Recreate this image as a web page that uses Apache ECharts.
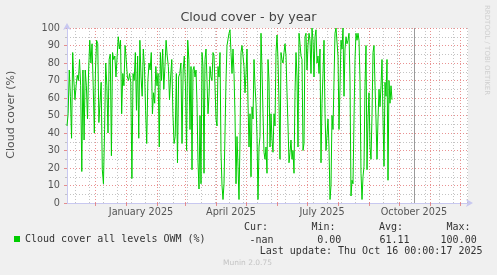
<!DOCTYPE html>
<html><head><meta charset="utf-8">
<script src="https://cdn.jsdelivr.net/npm/echarts@6/dist/echarts.min.js"></script>
<style>html,body{margin:0;padding:0;background:#f0f0f0;}#c{width:497px;height:275px;}</style>
</head><body><div id="c"></div>
<script>
const chartTitle = 'Cloud cover - by year';
const yAxisName = 'Cloud cover (%)';
const seriesName = 'Cloud cover all levels OWM (%)';
const axisStart = '2024-11-03';
const axisEnd = '2025-12-09';
const nowDate = '2025-10-16';
const xLabelDates = ['2025-01-16', '2025-04-16', '2025-07-16', '2025-10-16'];
const xLabelTexts = ['January 2025', 'April 2025', 'July 2025', 'October 2025'];
const statHeaders = ['Cur:', 'Min:', 'Avg:', 'Max:'];
const statValues = ['-nan', '0.00', '61.11', '100.00'];
const lastUpdate = 'Last update: Thu Oct 16 00:00:17 2025';
const footer = 'Munin 2.0.75';
const sideText = 'RRDTOOL / TOBI OETIKER';
// date spans covered by each block of daily readings
const segmentSpans = [['2024-11-03', '2025-03-06'], ['2025-03-07', '2025-07-13'], ['2025-07-14', '2025-09-24']];
const cloudA = [44,51,76,61,37,86,70,59,67,73,70,82,67,18,76,36,76,67,48,76,93,80,91,67,40,76,93,91,46,45,69,19,11,42,80,67,40,82,85,27,86,82,84,72,71,95,88,93,51,74,67,90,82,72,70,74,69,14,74,70,86,53,84,37,93,72,61,88,78,53,34,70,80,76,86,51,63,57,78,67,74,32,86,70,88,65,78,93,84,78,59,72,82,51,34,38,74,23,72,74,80,34,76,84,67,30,93,82,42];
const cloudB = [78,19,76,78,72,76,57,23,8,50,11,86,78,17,82,88,70,51,61,78,72,70,86,84,67,48,44,78,72,86,29,10,2,11,40,70,90,91,97,99,86,74,88,74,50,11,38,21,2,36,86,90,84,78,63,74,88,57,32,51,15,55,48,82,67,57,38,2,32,38,97,76,51,29,25,32,17,82,70,32,51,36,29,51,44,86,96,82,57,25,86,82,80,86,91,84,63,44,23,29,36,25,30,17,63,86,72,32,97,91,84,82,30,34,95,97,76,90,97,93,74,100,93,72,95,99,80,84,74];
const cloudC = [88,23,57,74,93,51,30,29,48,32,2,10,50,42,70,97,100,99,84,42,67,93,88,100,61,88,95,91,93,97,70,4,13,11,48,82,97,93,97,93,70,17,2,15,21,67,90,19,48,63,32,25,50,86,90,67,48,25,48,65,55,67,82,48,21,69,61,82,13,70,57,67,59];

const DAY = 86400000;
const ts = s => Date.parse(s + 'T00:00:00Z');
const blocks = [cloudA, cloudB, cloudC];
const seriesData = [];
blocks.forEach((vals, k) => {
  const a = ts(segmentSpans[k][0]), b = ts(segmentSpans[k][1]);
  vals.forEach((v, i) => seriesData.push([a + (b - a) * i / (vals.length - 1), v]));
});
const monthStarts = [];
for (let m = 0; m < 14; m++) {
  const t = Date.UTC(2024, 10 + m, 1);
  if (t > ts(axisStart) && t < ts(axisEnd)) monthStarts.push(t);
}
const biweekly = [];
for (let t = ts('2024-11-11'); t < ts(axisEnd); t += 14 * DAY) biweekly.push(t);
const labelTs = xLabelDates.map(ts);

const RED = 'rgba(225,110,110,0.75)';
const GREY = 'rgba(190,190,190,0.9)';
const AXIS = '#c8c8f0';
const FONT = 'DejaVu Sans';
const MONO = 'DejaVu Sans Mono';

const chart = echarts.init(document.getElementById('c'), null, {renderer: 'canvas'});
const gridLine = (list, color, type) => ({
  type: 'line', data: [], z: 1, silent: true, animation: false,
  markLine: {symbol: 'none', silent: true, animation: false, label: {show: false},
    lineStyle: {color: color, type: type, width: 1},
    data: list.map(t => ({xAxis: t}))}
});
chart.setOption({
  animation: false,
  backgroundColor: '#f0f0f0',
  title: {text: chartTitle, left: 'center', top: 11, padding: 0,
    textStyle: {fontFamily: FONT, fontSize: 12.7, fontWeight: 'normal', color: '#444'}},
  grid: {left: 67, right: 29, top: 28, bottom: 72, show: true, backgroundColor: '#fff', borderWidth: 0},
  legend: {left: 14, top: 234, padding: 0, icon: 'rect', itemWidth: 6, itemHeight: 6,
    data: [seriesName], selectedMode: false,
    textStyle: {fontFamily: MONO, fontSize: 10, color: '#333'}},
  xAxis: {
    type: 'value', min: ts(axisStart), max: ts(axisEnd),
    axisLine: {show: true, onZero: false, lineStyle: {color: AXIS}, symbol: ['none', 'arrow'], symbolSize: [6, 7], symbolOffset: [0, 5]},
    axisTick: {show: true, customValues: monthStarts, length: 3, lineStyle: {color: RED}},
    axisLabel: {show: true, customValues: labelTs, margin: 4, fontFamily: FONT, fontSize: 9.7, color: '#555',
      formatter: v => { const i = labelTs.indexOf(v); return i >= 0 ? xLabelTexts[i] : ''; }},
    splitLine: {show: false}
  },
  yAxis: {
    type: 'value', min: 0, max: 100, interval: 10,
    axisLine: {show: true, lineStyle: {color: AXIS}, symbol: ['none', 'arrow'], symbolSize: [6, 7], symbolOffset: [0, 5]},
    axisTick: {show: true, length: 3, lineStyle: {color: RED}},
    minorTick: {show: true, splitNumber: 2, length: 2, lineStyle: {color: GREY}},
    axisLabel: {margin: 7, fontFamily: FONT, fontSize: 9.7, color: '#555'},
    splitLine: {show: true, lineStyle: {color: RED, type: [1, 2], width: 1}},
    minorSplitLine: {show: true, lineStyle: {color: GREY, type: [1, 2], width: 1}}
  },
  series: [
    gridLine(biweekly, GREY, [1, 2]),
    gridLine(monthStarts, RED, [1, 2]),
    gridLine([ts(nowDate)], '#9a9a9a', 'solid'),
    {type: 'line', name: seriesName, data: seriesData, z: 5, showSymbol: false, symbol: 'none',
      color: '#00cc00', lineStyle: {color: '#00cc00', width: 1}, animation: false}
  ],
  graphic: [
    {type: 'text', x: 11, y: 114.7, rotation: Math.PI / 2,
      style: {text: yAxisName, fill: '#555', font: '11px ' + FONT, align: 'center', verticalAlign: 'middle'}},
    {type: 'text', x: 487, y: 5, rotation: -Math.PI / 2,
      style: {text: sideText, fill: '#cfcfcf', font: '7px ' + FONT, align: 'left', verticalAlign: 'middle'}},
    ...statHeaders.map((t, i) => ({type: 'text', x: [244, 311.5, 379, 446.5][i], y: 227.3,
      style: {text: t, fill: '#333', font: '10px ' + MONO, verticalAlign: 'middle'}})),
    ...statValues.map((t, i) => ({type: 'text', x: [273.5, 341.3, 409.5, 476.7][i], y: 240,
      style: {text: t, fill: '#333', font: '10px ' + MONO, align: 'right', verticalAlign: 'middle'}})),
    {type: 'text', x: 482.5, y: 251.7,
      style: {text: lastUpdate, fill: '#333', font: '10px ' + MONO, align: 'right', verticalAlign: 'middle'}},
    {type: 'text', x: 247.5, y: 263.3,
      style: {text: footer, fill: '#c4c4c4', font: '7.5px ' + FONT, align: 'center', verticalAlign: 'middle'}}
  ]
});
</script></body></html>
